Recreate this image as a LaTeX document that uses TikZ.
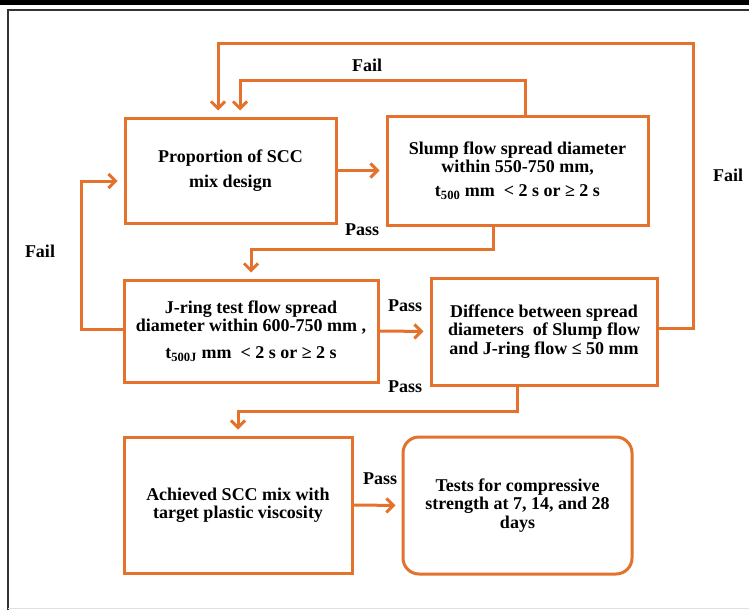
\documentclass[tikz,border=0pt]{standalone}
\usepackage{fontspec}
\setmainfont{Liberation Serif}
\usetikzlibrary{arrows.meta}
\definecolor{sccorange}{RGB}{228,114,44}
\begin{document}
\begin{tikzpicture}
		[x=1pt,y=-1pt,
		box/.style={draw=sccorange,line width=3pt,inner sep=0pt,align=center,
			font=\fontsize{18}{18.5}\selectfont\bfseries},
		flow/.style={draw=sccorange,line width=3pt,shorten >=6pt,
			-{Straight Barb[length=7pt,width=14pt]}},
		lbl/.style={font=\fontsize{18}{18.5}\selectfont\bfseries,inner sep=0pt}
	]
		\useasboundingbox (0,0) rectangle (749,610);
		\fill[white] (0,0) rectangle (749,610);
		\fill[black] (0,0) rectangle (749,5.5);
		\draw[black!80,line width=1.5pt] (749,10) -- (8,10) -- (8,610);
		\draw[black!12,line width=1pt] (8,608.5) -- (749,608.5);
		\node[box,minimum width=211pt,minimum height=105pt] (prop) at (230.5,170.5)
			{Proportion of SCC\\[7pt]mix design};
		\node[box,minimum width=261pt,minimum height=109pt] (slump) at (517.5,170.5)
			{Slump flow spread diameter\\within 550-750 mm,\\[5pt]t\textsubscript{500} mm~ < 2 s or ≥ 2 s};
		\node[box,minimum width=254pt,minimum height=102pt] (jring) at (251,331)
			{J-ring test flow spread\\diameter within 600-750 mm ,\\[8pt]t\textsubscript{500J} mm~ < 2 s or ≥ 2 s};
		\node[box,minimum width=226pt,minimum height=107pt] (diff) at (544,331.5)
			{Diffence between spread\\diameters\ \ of Slump flow\\and J-ring flow ≤ 50 mm};
		\node[box,minimum width=228pt,minimum height=136pt] (achieved) at (238,505)
			{Achieved SCC mix with\\target plastic viscosity};
		\node[box,rounded corners=16pt,minimum width=229pt,minimum height=137pt] (tests) at (517.5,505.5)
			{Tests for compressive\\strength at 7, 14, and 28\\days};
		\draw[flow] (prop.east) -- (slump.west);
		\draw[flow] ([xshift=7.5pt]slump.north) -- ++(0,-34) -| ([xshift=9.5pt]prop.north);
		\draw[flow] ([yshift=3pt]diff.east) -| (693,44) -| ([xshift=-12.5pt]prop.north);
		\draw[flow] ([xshift=-24.5pt]slump.south) -- ++(0,23) -| (jring.north);
		\draw[flow] ([yshift=2pt]jring.west) -- ++(-41,0) |- ([yshift=-10.5pt]prop.west);
		\draw[flow] (jring.east) -- (diff.west);
		\draw[flow] ([xshift=-27pt]diff.south) -- ++(0,25) -| (achieved.north);
		\draw[flow] (achieved.east) -- (tests.west);
		\node[lbl] (failinner) at (367,65) {Fail};
		\node[lbl] (failouter) at (728,175) {Fail};
		\node[lbl] (failleft) at (40,251) {Fail};
		\node[lbl] (passslump) at (362,230) {Pass};
		\node[lbl] (passjring) at (405,306) {Pass};
		\node[lbl] (passdiff) at (405,387) {Pass};
		\node[lbl] (passmix) at (380,479) {Pass};
	\end{tikzpicture}
\end{document}
